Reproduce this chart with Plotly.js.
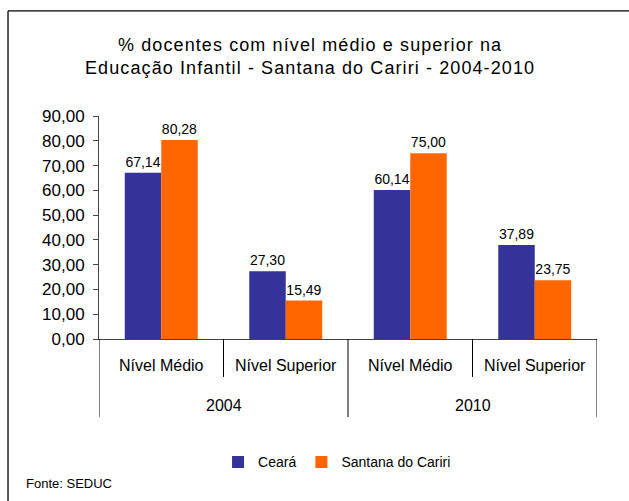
<!DOCTYPE html>
<html>
<head>
<meta charset="utf-8">
<script src="https://cdn.plot.ly/plotly-3.0.1.min.js"></script>
<style>
html,body{margin:0;padding:0;background:#fff;}
#chart{width:629px;height:501px;}
#chart .gtitle{letter-spacing:1.1px;}
</style>
</head>
<body>
<div id="chart"></div>
<script>
var years = ['2004', '2004', '2010', '2010'];
var levels = ['Nível Médio', 'Nível Superior', 'Nível Médio', 'Nível Superior'];
var seriesNames = ['Ceará', 'Santana do Cariri'];
var ceara = [67.14, 27.30, 60.14, 37.89];
var santana = [80.28, 15.49, 75.00, 23.75];
var yTicks = [0, 10, 20, 30, 40, 50, 60, 70, 80, 90];

var FONT = 'Liberation Sans, Arial, sans-serif';
var colors = ['#333399', '#FF6600'];

// unique category keys combining year and level
var keys = years.map(function (y, i) { return y + ' ' + levels[i]; });

function barTrace(name, vals, color) {
  return {
    type: 'bar',
    name: name,
    x: keys,
    y: vals,
    marker: {color: color, line: {width: 0}},
    texttemplate: '%{y:.2f}',
    textposition: 'outside',
    textfont: {family: FONT, size: 14, color: '#000'},
    cliponaxis: false,
    hoverinfo: 'none'
  };
}

var data = [barTrace(seriesNames[0], ceara, colors[0]), barTrace(seriesNames[1], santana, colors[1])];

var LEVEL_Y = -0.117, YEAR_Y = -0.296, INNER_BOTTOM = -0.170, OUTER_BOTTOM = -0.350;
var shapes = [];
var annotations = [];

// level labels (first row)
levels.forEach(function (lv, i) {
  annotations.push({text: lv, xref: 'x', yref: 'paper', x: i, y: LEVEL_Y,
    xanchor: 'center', yanchor: 'middle', showarrow: false,
    font: {family: FONT, size: 16, color: '#000'}});
});

// year groups (second row) and dividers
var groups = [];
years.forEach(function (y, i) {
  if (!groups.length || groups[groups.length - 1].year !== y) groups.push({year: y, start: i, end: i});
  else groups[groups.length - 1].end = i;
});
groups.forEach(function (g) {
  annotations.push({text: g.year, xref: 'x', yref: 'paper', x: (g.start + g.end) / 2, y: YEAR_Y,
    xanchor: 'center', yanchor: 'middle', showarrow: false,
    font: {family: FONT, size: 16, color: '#000'}});
  shapes.push({type: 'line', xref: 'x', yref: 'paper', x0: g.start - 0.5, x1: g.start - 0.5, y0: 0, y1: OUTER_BOTTOM,
    line: {color: '#000', width: 1}});
  for (var k = g.start; k < g.end; k++) {
    shapes.push({type: 'line', xref: 'x', yref: 'paper', x0: k + 0.5, x1: k + 0.5, y0: 0, y1: INNER_BOTTOM,
      line: {color: '#000', width: 1}});
  }
});
var last = groups[groups.length - 1];
shapes.push({type: 'line', xref: 'x', yref: 'paper', x0: last.end + 0.5, x1: last.end + 0.5, y0: 0, y1: OUTER_BOTTOM,
  line: {color: '#000', width: 1}});

// chart border (left and top edges)
shapes.push({type: 'line', xref: 'paper', yref: 'paper', x0: -0.1827, x1: -0.1827, y0: -1.0, y1: 1.471, line: {color: '#000', width: 1.3}});
shapes.push({type: 'line', xref: 'paper', yref: 'paper', x0: -0.1827, x1: 1.2, y0: 1.471, y1: 1.471, line: {color: '#000', width: 1.3}});

annotations.push({
  text: 'Fonte: SEDUC', xref: 'paper', yref: 'paper', x: -0.151, y: -0.646,
  xanchor: 'left', yanchor: 'middle', showarrow: false,
  font: {family: FONT, size: 13, color: '#000'}
});

var layout = {
  width: 629, height: 501,
  margin: {l: 99, r: 32, t: 116, b: 162},
  paper_bgcolor: '#fff', plot_bgcolor: '#fff',
  font: {family: FONT, color: '#000'},
  separators: ',.',
  barmode: 'group',
  bargap: 0.414,
  bargroupgap: 0,
  showlegend: true,
  title: {
    text: '% docentes com nível médio e superior na<br>Educação Infantil - Santana do Cariri - 2004-2010',
    font: {family: FONT, size: 18, color: '#000'},
    x: 0.493, xanchor: 'center', y: 0.899, yanchor: 'middle', yref: 'container'
  },
  xaxis: {
    type: 'category',
    showline: true, linecolor: '#444', linewidth: 1,
    ticks: '', showticklabels: false, showgrid: false, zeroline: false,
    range: [-0.5, keys.length - 0.5]
  },
  yaxis: {
    range: [0, 90], tickvals: yTicks, tickformat: '.2f',
    showline: true, linecolor: '#444', linewidth: 1,
    ticks: 'outside', ticklen: 5, tickcolor: '#444',
    ticklabelstandoff: 5,
    showgrid: false, zeroline: false,
    tickfont: {family: FONT, size: 17, color: '#000'}
  },
  legend: {
    orientation: 'h', x: 0.478, xanchor: 'center', y: -0.553, yanchor: 'middle',
    font: {family: FONT, size: 14, color: '#000'},
    itemwidth: 30, bgcolor: 'rgba(0,0,0,0)'
  },
  annotations: annotations,
  shapes: shapes
};

Plotly.newPlot('chart', data, layout, {displayModeBar: false, staticPlot: true});
</script>
</body>
</html>
